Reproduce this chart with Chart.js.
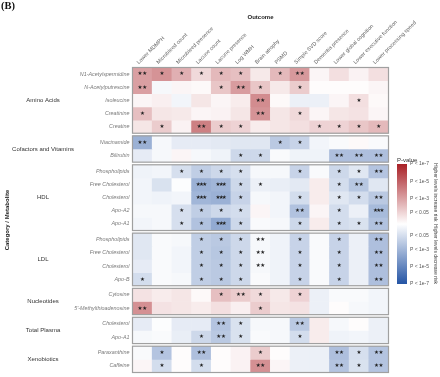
<!DOCTYPE html>
<html>
<head>
<meta charset="utf-8">
<script src="https://cdn.jsdelivr.net/npm/chart.js@4.4.1/dist/chart.umd.min.js"></script>
<style>
  body { margin: 0; background: #fff; }
  #wrap { position: relative; width: 440px; height: 377px; }
  #tag { position: absolute; left: 1px; top: 0px; font: bold 10.5px 'Liberation Serif', serif; line-height: 12px; color: #111; }
</style>
</head>
<body>
<div id="wrap">
  <canvas id="heat"></canvas>
  <div id="tag">(B)</div>
</div>
<script>
var outcomes = ['Lower MDMPH', 'Microbleed count', 'Microbleed presence', 'Lacune count', 'Lacune presence',
  'Log WMH', 'Brain atrophy', 'PSMD', 'Simple SVD score', 'Dementia presence',
  'Lower global cognition', 'Lower executive function', 'Lower processing speed'];

var groupNames = ['Amino Acids', 'Cofactors and Vitamins', 'HDL', 'LDL', 'Nucleotides', 'Total Plasma', 'Xenobiotics'];

var metabolites = ['N1-Acetylspermidine', 'N-Acetylputrescine', 'Isoleucine', 'Creatinine', 'Creatine',
  'Niacinamide', 'Bilirubin',
  'Phospholipids', 'Free Cholesterol', 'Cholesterol', 'Apo-A2', 'Apo-A1',
  'Phospholipids', 'Free Cholesterol', 'Cholesterol', 'Apo-B',
  'Cytosine', "5'-Methylthioadenosine",
  'Cholesterol', 'Apo-A1',
  'Paraxanthine', 'Caffeine'];

var metaboliteGroup = [0,0,0,0,0, 1,1, 2,2,2,2,2, 3,3,3,3, 4,4, 5,5, 6,6];

// signed significance (+ higher levels increase risk, - decrease risk), read from cell shade
var scores = [
  [ 3.0,  3.4,  2.5,  1.2,  2.2,  2.0,  0.7,  2.2,  3.2,  0.3,  1.0,  0.4,  1.0],
  [ 3.0, -0.3,  0.3,  0.2,  1.8,  3.1,  1.8,  0.7,  1.6,  0.1,  0.1,  0.1,  0.3],
  [ 0.3,  0.5, -0.4,  0.8,  0.3,  0.6,  3.6,  0.2, -0.6, -0.6,  0.3,  1.0,  0.2],
  [ 2.0,  0.8,  0.7,  0.3,  0.4,  0.8,  3.4,  0.8,  1.2,  0.3,  0.8,  0.9,  0.3],
  [ 0.8,  1.6,  0.4,  4.0,  1.6,  1.4,  0.6,  0.8,  1.0,  1.4,  1.4,  1.8,  2.2],
  [-3.2, -0.3, -0.8, -0.8, -0.9, -1.0, -1.0, -2.2, -1.8, -0.4, -0.2,  0.2, -0.2],
  [-0.8, -0.3,  0.3, -0.3, -0.5, -1.6, -1.6, -0.2, -0.5, -0.5, -2.6, -2.6, -2.6],
  [-0.5, -0.4, -1.3, -2.0, -1.6, -1.3, -0.3, -0.3, -1.8, -0.2, -1.6, -1.0, -2.4],
  [-0.4, -1.2, -0.1, -3.2, -3.0, -1.6, -0.6, -0.7, -0.9,  0.6, -1.4, -2.3, -1.0],
  [-0.4, -0.5, -0.4, -3.0, -3.2, -1.8, -0.3, -0.4, -1.4,  0.6, -1.0, -1.4, -2.2],
  [-0.3, -0.3, -1.3, -2.0, -1.6, -1.4,  0.3, -0.4, -2.5,  0.3, -1.4, -0.6, -2.8],
  [-0.4, -0.3, -1.3, -2.5, -3.5, -1.6, -0.2, -0.3, -1.6,  0.6, -1.4, -1.2, -2.5],
  [-1.0, -0.2, -0.3, -2.0, -2.2, -1.6, -0.3, -0.5, -1.8, -0.2, -1.8, -0.6, -2.6],
  [-1.0, -0.2, -0.4, -2.0, -2.3, -1.6, -0.3, -0.5, -1.8, -0.2, -1.8, -0.6, -2.6],
  [-0.8, -0.2, -0.4, -2.0, -2.2, -1.6, -0.3, -0.5, -1.8, -0.2, -1.8, -0.6, -2.6],
  [-1.4, -0.2, -0.3, -2.0, -2.2, -1.6, -0.2, -0.5, -1.8, -0.2, -1.8, -0.6, -2.6],
  [ 0.9,  0.6,  0.8,  0.2,  2.0,  1.6,  1.2,  0.7,  1.4, -0.6, -0.2, -0.2, -0.4],
  [ 3.5,  0.9,  0.8,  0.6,  1.0,  0.5,  1.6,  0.8,  0.9, -0.6,  0.1, -0.3, -0.4],
  [-0.8, -0.1, -0.8, -0.8, -2.4, -1.2, -0.3, -0.3, -2.2,  0.6, -0.3,  0.1, -0.6],
  [-0.3, -0.2, -0.7, -1.6, -2.2, -1.2, -0.2, -0.3, -1.4,  0.6, -0.5, -0.4, -0.6],
  [-0.2, -2.4,  0.1, -2.6,  0.1,  0.4,  1.6,  0.1, -0.6, -0.6, -2.6, -1.3, -2.4],
  [ 0.3, -1.4,  0.1, -1.4,  0.1,  0.4,  3.5,  0.3, -0.6, -0.6, -2.4, -1.2, -2.4]
];

// number of stars in each cell
var stars = [
  [2,1,1,1,1,1,0,1,2,0,0,0,0],
  [2,0,0,0,1,2,1,0,1,0,0,0,0],
  [0,0,0,0,0,0,2,0,0,0,0,1,0],
  [1,0,0,0,0,0,2,0,1,0,0,0,0],
  [0,1,0,2,1,1,0,0,0,1,1,1,1],
  [2,0,0,0,0,0,0,1,1,0,0,0,0],
  [0,0,0,0,0,1,1,0,0,0,2,2,2],
  [0,0,1,1,1,1,0,0,1,0,1,1,2],
  [0,0,0,3,3,1,1,0,0,0,1,2,0],
  [0,0,0,3,3,1,0,0,1,0,1,1,2],
  [0,0,1,1,1,1,0,0,2,0,1,0,3],
  [0,0,1,1,3,1,0,0,1,0,1,1,2],
  [0,0,0,1,1,1,2,0,1,0,1,0,2],
  [0,0,0,1,1,1,2,0,1,0,1,0,2],
  [0,0,0,1,1,1,2,0,1,0,1,0,2],
  [1,0,0,1,1,1,0,0,1,0,1,0,2],
  [0,0,0,0,1,2,1,0,1,0,0,0,0],
  [2,0,0,0,0,0,1,0,0,0,0,0,0],
  [0,0,0,0,2,1,0,0,2,0,0,0,0],
  [0,0,0,1,2,1,0,0,1,0,0,0,0],
  [0,1,0,2,0,0,1,0,0,0,2,1,2],
  [0,1,0,1,0,0,2,0,0,0,2,1,2]
];

var legendLevels = [7, 5, 3, 1.3, -1.3, -3, -5, -7];
var legendLabels = ['P < 1e-7', 'P < 1e-5', 'P < 1e-3', 'P < 0.05', 'P < 0.05', 'P < 1e-3', 'P < 1e-5', 'P < 1e-7'];

var RED = [168, 32, 38];
var BLUE = [36, 84, 164];
var GAP = 0.2;

function shade(v){
    var t = Math.min(Math.abs(v) / 7, 1);
    var c = v >= 0 ? RED : BLUE;
    return 'rgb(' + c.map(function(k){ return Math.round(255 + (k - 255) * t); }).join(',') + ')';
}

var rowPos = metabolites.map(function(m, i){ return i + metaboliteGroup[i] * GAP; });
var maxPos = rowPos[rowPos.length - 1] + 0.5;
var groupCenters = groupNames.map(function(g, gi){
    var p = rowPos.filter(function(v, i){ return metaboliteGroup[i] === gi; });
    return (p[0] + p[p.length - 1]) / 2;
});

Chart.defaults.font.family = "'Liberation Sans', Arial, sans-serif";

var datasets = metabolites.map(function(name, r){
    return {
        label: name,
        data: outcomes.map(function(){ return [rowPos[r] - 0.5, rowPos[r] + 0.5]; }),
        backgroundColor: scores[r].map(shade),
        borderWidth: 0,
        grouped: false,
        barPercentage: 1,
        categoryPercentage: 1,
        yAxisID: 'y'
    };
});

var starPlugin = {
    id: 'stars',
    afterDatasetsDraw: function(chart){
        var ctx = chart.ctx;
        ctx.save();
        ctx.fillStyle = '#222';
        ctx.font = "5.5px 'DejaVu Sans'";
        ctx.textAlign = 'center';
        ctx.textBaseline = 'middle';
        chart.data.datasets.forEach(function(ds, r){
            chart.getDatasetMeta(r).data.forEach(function(bar, c){
                var n = stars[r][c];
                if(!n) return;
                var step = n === 3 ? 3.2 : 4.6;
                var cy = (bar.y + bar.base) / 2;
                for(var k = 0; k < n; k++){
                    ctx.fillText('\u2605', bar.x + (k - (n - 1) / 2) * step, cy);
                }
            });
        });
        // group frames
        var y = chart.scales.y, area = chart.chartArea;
        ctx.strokeStyle = '#a0a0a0';
        ctx.lineWidth = 1.2;
        groupNames.forEach(function(g, gi){
            var p = rowPos.filter(function(v, i){ return metaboliteGroup[i] === gi; });
            var top = y.getPixelForValue(p[0] - 0.5);
            var bottom = y.getPixelForValue(p[p.length - 1] + 0.5);
            ctx.strokeRect(area.left, top, area.right - area.left, bottom - top);
        });
        ctx.restore();
    }
};

var legendPlugin = {
    id: 'pvalueLegend',
    afterDraw: function(chart){
        var ctx = chart.ctx, area = chart.chartArea;
        var x0 = area.right + 8.5, w = 10;
        var mid = area.top + 156.5, k = 8.57;
        var yOf = function(v){ return mid - v * k; };
        ctx.save();
        var grad = ctx.createLinearGradient(0, yOf(7), 0, yOf(-7));
        grad.addColorStop(0, shade(7));
        grad.addColorStop(0.5, '#ffffff');
        grad.addColorStop(1, shade(-7));
        ctx.fillStyle = grad;
        ctx.fillRect(x0, yOf(7), w, yOf(-7) - yOf(7));

        ctx.fillStyle = '#333';
        ctx.font = "6px 'Liberation Sans'";
        ctx.textBaseline = 'middle';
        ctx.fillText('P-value', x0, yOf(7) - 4);

        ctx.fillStyle = '#555';
        ctx.font = "5px 'Liberation Sans'";
        legendLevels.forEach(function(v, i){
            ctx.fillText(legendLabels[i], x0 + 13, yOf(v));
        });

        ctx.fillStyle = '#444';
        ctx.textAlign = 'center';
        [['Higher levels increase risk', 3.7], ['Higher levels decrease risk', -3.5]].forEach(function(t){
            ctx.save();
            ctx.translate(x0 + 38, yOf(t[1]));
            ctx.rotate(Math.PI / 2);
            ctx.fillText(t[0], 0, 0);
            ctx.restore();
        });
        ctx.restore();
    }
};

var chart = new Chart(document.getElementById('heat'), {
    type: 'bar',
    data: { labels: outcomes, datasets: datasets },
    plugins: [starPlugin, legendPlugin],
    options: {
        responsive: true,
        maintainAspectRatio: false,
        animation: false,
        layout: { padding: { top: 9.5, right: 51.5, bottom: 4.5, left: 0 } },
        plugins: { legend: { display: false }, tooltip: { enabled: false } },
        scales: {
            x: {
                type: 'category',
                position: 'top',
                offset: true,
                grid: { display: false, drawTicks: false },
                border: { display: false },
                title: { display: true, text: 'Outcome', color: '#222', font: { size: 6, weight: 'bold' } },
                ticks: { autoSkip: false, minRotation: 45, maxRotation: 45, padding: 2, color: '#666', font: { size: 5.4 } },
                afterFit: function(s){ s.height = 58; s.paddingLeft = 0; s.paddingRight = 0; }
            },
            y: {
                type: 'linear',
                position: 'left',
                weight: 0,
                min: -0.5,
                max: maxPos,
                reverse: true,
                grid: { display: false, drawTicks: false },
                border: { display: false },
                afterBuildTicks: function(s){ s.ticks = rowPos.map(function(v){ return { value: v }; }); },
                afterFit: function(s){ s.width = 58.5; s.paddingTop = 0; s.paddingBottom = 0; },
                ticks: {
                    autoSkip: false, padding: 3, color: '#7a7a7a',
                    font: { size: 5.4, style: 'italic' },
                    callback: function(v, i){ return metabolites[i]; }
                }
            },
            yg: {
                type: 'linear',
                position: 'left',
                weight: 1,
                min: -0.5,
                max: maxPos,
                reverse: true,
                grid: { display: false, drawTicks: false },
                border: { display: false },
                title: { display: true, text: 'Category / Metabolite', color: '#222', font: { size: 6, weight: 'bold' } },
                afterBuildTicks: function(s){ s.ticks = groupCenters.map(function(v){ return { value: v }; }); },
                afterFit: function(s){ s.width = 74; s.paddingTop = 0; s.paddingBottom = 0; },
                ticks: {
                    autoSkip: false, padding: 0, crossAlign: 'center', color: '#333',
                    font: { size: 6 },
                    callback: function(v, i){ return groupNames[i]; }
                }
            }
        }
    }
});
</script>
</body>
</html>
